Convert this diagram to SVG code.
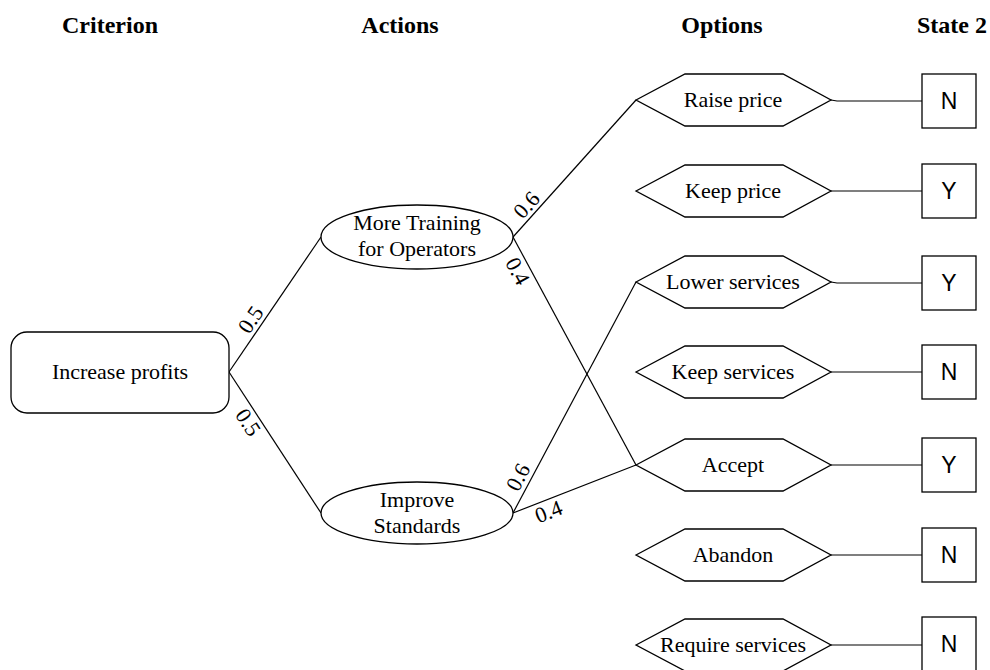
<svg xmlns="http://www.w3.org/2000/svg" width="990" height="670" viewBox="0 0 990 670">
<style>
.hdr{font-family:"Liberation Serif","Times New Roman",serif;font-weight:bold;font-size:24px;fill:#000}
.t{font-family:"Liberation Serif","Times New Roman",serif;font-size:22px;fill:#000;text-anchor:middle}
.p{font-family:"Liberation Serif","Times New Roman",serif;font-size:22px;fill:#000;text-anchor:middle}
.b{font-family:"Liberation Sans",Arial,sans-serif;font-size:23px;fill:#000;text-anchor:middle}
.s{fill:#fff;stroke:#000;stroke-width:1.3}
.c{stroke:#000;stroke-width:1.2;fill:none}
</style>
<defs>
<polygon id="hex" points="636,0 685,-26 783,-26 831,0 783,26 685,26" class="s"/>
</defs>
<rect width="990" height="670" fill="#fff"/>
<g id="headers">
<text class="hdr" x="110" y="33" text-anchor="middle">Criterion</text>
<text class="hdr" x="400" y="33" text-anchor="middle">Actions</text>
<text class="hdr" x="722" y="33" text-anchor="middle">Options</text>
<text class="hdr" x="917" y="33">State 2</text>
</g>
<g id="connectors">
<line class="c" x1="229" y1="372" x2="321" y2="237"/>
<line class="c" x1="229" y1="372" x2="321" y2="513"/>
<line class="c" x1="513" y1="237" x2="636" y2="100"/>
<line class="c" x1="513" y1="237" x2="636" y2="465"/>
<line class="c" x1="513" y1="513" x2="636" y2="282"/>
<line class="c" x1="513" y1="513" x2="636" y2="465"/>
<polyline class="c" points="831,100 837,101 922,101"/>
<line class="c" x1="831" y1="191" x2="922" y2="191"/>
<polyline class="c" points="831,282 837,283 922,283"/>
<line class="c" x1="831" y1="372" x2="922" y2="372"/>
<line class="c" x1="831" y1="465" x2="922" y2="465"/>
<line class="c" x1="831" y1="555" x2="922" y2="555"/>
<line class="c" x1="831" y1="645" x2="922" y2="645"/>
<g id="labels">
<text class="p" transform="translate(260,326) rotate(-55.7)" x="0" y="-4">0.5</text>
<text class="p" transform="translate(258,416) rotate(56.9)" x="0" y="19">0.5</text>
<text class="p" transform="translate(535,212.5) rotate(-48.1)" x="0" y="-4">0.6</text>
<text class="p" transform="translate(528,265.6) rotate(61.6)" x="0" y="19">0.4</text>
<text class="p" transform="translate(529,483) rotate(-62.1)" x="0" y="-5">0.6</text>
<text class="p" transform="translate(544.4,500.7) rotate(-21.3)" x="0" y="19">0.4</text>
</g>
</g>
<g id="criterion">
<rect class="s" x="11" y="332" width="218" height="81" rx="16" ry="16"/>
<text class="t" x="120" y="379">Increase profits</text>
</g>
<g id="action-training">
<ellipse class="s" cx="417" cy="237" rx="96" ry="32"/>
<text class="t" x="417" y="230">More Training</text>
<text class="t" x="417" y="256">for Operators</text>
</g>
<g id="action-standards">
<ellipse class="s" cx="417" cy="513" rx="96" ry="31"/>
<text class="t" x="417" y="507">Improve</text>
<text class="t" x="417" y="533">Standards</text>
</g>
<g id="opt-raise"><use href="#hex" y="100"/><text class="t" x="733" y="107">Raise price</text></g>
<g id="opt-keepprice"><use href="#hex" y="191"/><text class="t" x="733" y="198">Keep price</text></g>
<g id="opt-lower"><use href="#hex" y="282"/><text class="t" x="733" y="289">Lower services</text></g>
<g id="opt-keepserv"><use href="#hex" y="372"/><text class="t" x="733" y="379">Keep services</text></g>
<g id="opt-accept"><use href="#hex" y="465"/><text class="t" x="733" y="472">Accept</text></g>
<g id="opt-abandon"><use href="#hex" y="555"/><text class="t" x="733" y="562">Abandon</text></g>
<g id="opt-require"><use href="#hex" y="645"/><text class="t" x="733" y="652">Require services</text></g>
<g id="st1"><rect class="s" x="922" y="74" width="54" height="54"/><text class="b" x="949" y="109">N</text></g>
<g id="st2"><rect class="s" x="922" y="164" width="54" height="54"/><text class="b" x="949" y="199">Y</text></g>
<g id="st3"><rect class="s" x="922" y="256" width="54" height="54"/><text class="b" x="949" y="291">Y</text></g>
<g id="st4"><rect class="s" x="922" y="345" width="54" height="54"/><text class="b" x="949" y="380">N</text></g>
<g id="st5"><rect class="s" x="922" y="438" width="54" height="54"/><text class="b" x="949" y="473">Y</text></g>
<g id="st6"><rect class="s" x="922" y="528" width="54" height="54"/><text class="b" x="949" y="563">N</text></g>
<g id="st7"><rect class="s" x="922" y="617" width="54" height="54"/><text class="b" x="949" y="652">N</text></g>
</svg>
